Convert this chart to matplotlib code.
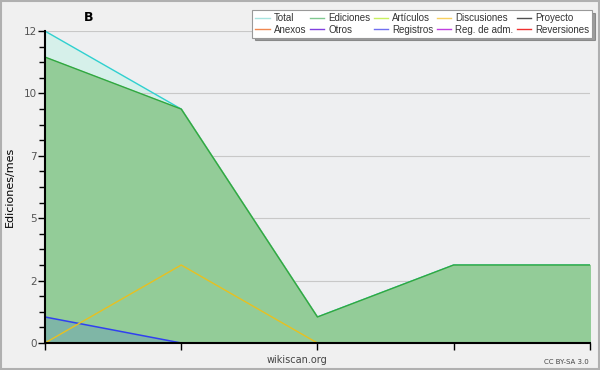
import matplotlib
matplotlib.use("Agg")
import matplotlib.pyplot as plt
from matplotlib.lines import Line2D
from matplotlib.patches import Rectangle
from matplotlib.ticker import AutoMinorLocator

# datos (ediciones por mes)
meses = [0, 1, 2, 3, 4]
total = [12, 9, 1, 3, 3]
ediciones = [11, 9, 1, 3, 3]
discusiones = [0, 3, 0, 0, 0]
registros = [1, 0, 0, 0, 0]

y_ticks = [0, 2.4, 4.8, 7.2, 9.6, 12]
y_labels = ["%d" % round(v) for v in y_ticks]

leyenda = [("Total", "#a8e4e0"), ("Anexos", "#f08850"),
           ("Ediciones", "#80c890"), ("Otros", "#8040e0"),
           ("Artículos", "#c8f060"), ("Registros", "#7070f0"),
           ("Discusiones", "#f8d060"), ("Reg. de adm.", "#c040e0"),
           ("Proyecto", "#505050"), ("Reversiones", "#f03030")]

fig = plt.figure(figsize=(6, 3.7), dpi=100)
fig.patch.set_facecolor("#f0f0f0")
fig.patches.append(Rectangle((0.001, 0.002), 0.997, 0.996, transform=fig.transFigure,
                             fill=False, edgecolor="#b0b0b0", linewidth=1.5))

ax = fig.add_axes([0.075, 0.073, 0.908, 0.843])
ax.set_facecolor("#eeeff1")

ax.fill_between(meses, total, color="#d6f0ea", zorder=1)
ax.plot(meses, total, color="#30d0d0", lw=1, zorder=2)
ax.fill_between(meses, ediciones, color="#93cc98", zorder=3)
ax.plot(meses, ediciones, color="#30a840", lw=1, zorder=4)
ax.fill_between(meses, registros, color="#3060e0", alpha=0.2, lw=0, zorder=5)
ax.plot(meses, registros, color="#3040f0", lw=1.1, zorder=6)
ax.plot(meses, discusiones, color="#e8c020", lw=1, zorder=6)

ax.set_xlim(0, 4)
ax.set_ylim(0, 12)
ax.set_xticks(meses)
ax.set_xticklabels([])
ax.set_yticks(y_ticks)
ax.set_yticklabels(y_labels)
ax.yaxis.set_minor_locator(AutoMinorLocator(4))
ax.tick_params(axis="both", which="major", length=5, width=1, labelsize=7.5, labelcolor="#555555", pad=1)
ax.tick_params(axis="y", which="minor", length=4, width=1)
ax.grid(axis="y", color="#c8c8c8", lw=0.8, zorder=0)
for s in ["top", "right"]:
    ax.spines[s].set_visible(False)
for s in ["left", "bottom"]:
    ax.spines[s].set_zorder(10)
    ax.spines[s].set_linewidth(1.5)

ax.set_ylabel("Ediciones/mes", fontsize=8, labelpad=6)
fig.text(0.147, 0.953, "B", fontsize=9, fontweight="bold", ha="center", va="center")
fig.text(0.495, 0.027, "wikiscan.org", fontsize=7, color="#444444", ha="center", va="center")
fig.text(0.982, 0.022, "CC BY-SA 3.0", fontsize=5, color="#444444", ha="right", va="center")

handles = [Line2D([], [], color=c, lw=1) for _, c in leyenda]
labels = [n for n, _ in leyenda]
leg = fig.legend(handles, labels, ncol=5, loc="upper right", bbox_to_anchor=(0.987, 0.972),
                 prop={"family": "Liberation Sans", "size": 7}, frameon=True,
                 fancybox=False, shadow=True, handlelength=1.5, handletextpad=0.4,
                 columnspacing=0.35, labelspacing=0.15, borderpad=0.3, borderaxespad=0)
leg.get_frame().set_edgecolor("#999999")
leg.get_frame().set_linewidth(0.8)
for t in leg.get_texts():
    t.set_color("#333333")

fig.savefig("out.png", dpi=100, facecolor=fig.get_facecolor())
